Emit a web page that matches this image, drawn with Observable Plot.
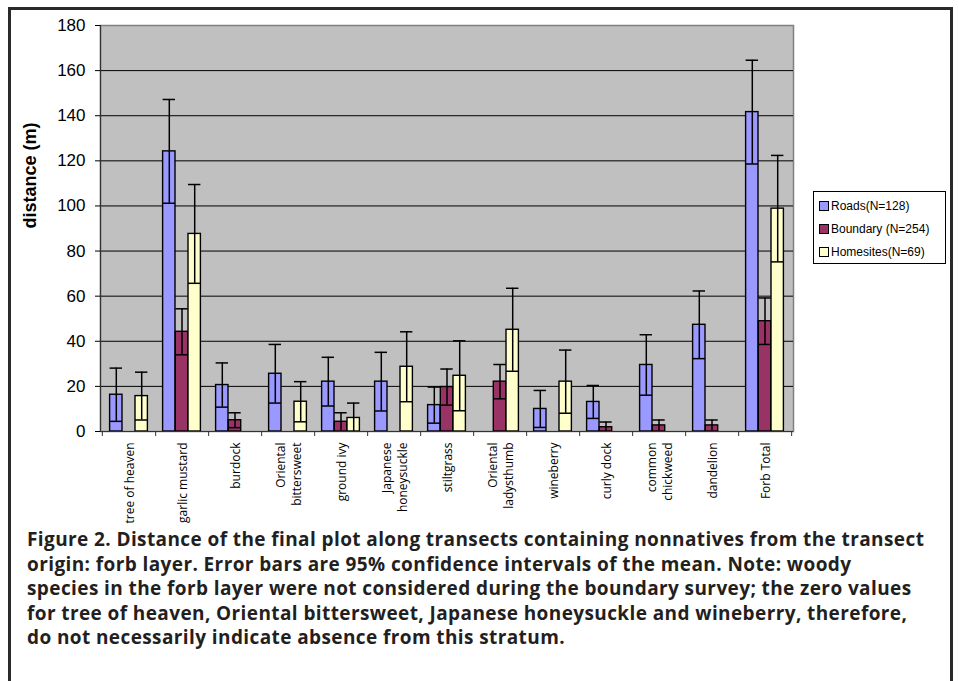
<!DOCTYPE html>
<html>
<head>
<meta charset="utf-8">
<script src="https://cdn.jsdelivr.net/npm/d3@7"></script>
<script src="https://cdn.jsdelivr.net/npm/@observablehq/plot@0.6"></script>
<style>
  html, body { margin: 0; padding: 0; background: #fff; }
  #page { position: relative; width: 959px; height: 681px; overflow: hidden; }
  #chart { position: absolute; left: 0; top: 0; }
  #outer { position: absolute; left: 8px; top: 7px; width: 945px; height: 700px; border: 3px solid #2a2a2a; box-sizing: border-box; pointer-events: none; }
  #legend { position: absolute; left: 813px; top: 191px; width: 133px; height: 73px; border: 1px solid #000; box-sizing: border-box; background: #fff; font-family: "Liberation Sans", Arial, sans-serif; font-size: 12px; color: #000; }
  .entry { position: absolute; left: 5px; height: 14px; line-height: 14px; white-space: nowrap; }
  .sw { display: inline-block; width: 8px; height: 8px; border: 1px solid #000; vertical-align: -1px; margin-right: 2px; }
  #caption { position: absolute; left: 27px; top: 527px; width: 930px; font-family: "Open Sans", sans-serif; font-weight: 700; font-size: 19px; letter-spacing: 0.4px; line-height: 24.6px; color: #231f20; white-space: pre; }
</style>
</head>
<body>
<div id="page">
  <div id="chart"></div>
  <div id="legend"></div>
  <div id="caption"></div>
  <div id="outer"></div>
</div>
<script>
const categories = ["tree of heaven", "garlic mustard", "burdock", "Oriental\nbittersweet", "ground ivy", "Japanese\nhoneysuckle", "stiltgrass", "Oriental\nladysthumb", "wineberry", "curly dock", "common\nchickweed", "dandelion", "Forb Total"];
const seriesNames = ["Roads(N=128)", "Boundary (N=254)", "Homesites(N=69)"];
const seriesColors = ["#9999ff", "#993366", "#ffffcc"];
const roadsMean = [16.3, 124.2, 20.6, 25.6, 22.1, 22.1, 11.7, 0, 10.0, 13.1, 29.5, 47.3, 141.6];
const roadsErr  = [11.8, 23.0, 9.8, 13.0, 10.8, 13.0, 8.0, 0, 8.2, 7.3, 13.4, 15.0, 23.0];
const boundaryMean = [0, 44.2, 5.0, 0, 4.3, 0, 19.7, 22.1, 0, 1.9, 2.7, 2.7, 48.9];
const boundaryErr  = [0, 10.2, 3.3, 0, 4.0, 0, 8.0, 7.6, 0, 2.3, 2.4, 2.4, 10.3];
const homesMean = [15.7, 87.6, 0, 13.2, 6.0, 28.7, 24.7, 45.1, 22.1, 0, 0, 0, 98.8];
const homesErr  = [10.6, 21.9, 0, 8.9, 6.6, 15.5, 15.5, 18.4, 14.0, 0, 0, 0, 23.6];
const yTicks = [0, 20, 40, 60, 80, 100, 120, 140, 160, 180];
const yLabel = "distance (m)";
const captionLines = [
  "Figure 2. Distance of the final plot along transects containing nonnatives from the transect",
  "origin: forb layer. Error bars are 95% confidence intervals of the mean. Note: woody",
  "species in the forb layer were not considered during the boundary survey; the zero values",
  "for tree of heaven, Oriental bittersweet, Japanese honeysuckle and wineberry, therefore,",
  "do not necessarily indicate absence from this stratum."
];

const means = [roadsMean, boundaryMean, homesMean];
const errs = [roadsErr, boundaryErr, homesErr];
const rows = [];
categories.forEach((c, i) => {
  seriesNames.forEach((s, k) => {
    const m = means[k][i], e = errs[k][i];
    rows.push({cat: c, series: s, k, mean: m, lo: Math.max(0, m - e), hi: m + e});
  });
});

const W = 959, H = 525;
const mL = 100, mR = 166, mT = 25, mB = 94;
const bw = (W - mL - mR) / categories.length;
const barW = 12.7;
const inset = (bw - barW) / 2;
const offsets = [-barW, 0, barW];

const marks = [
  Plot.frame({fill: "#c0c0c0", stroke: "#808080", strokeWidth: 1.5}),
  Plot.ruleY(yTicks.filter(t => t > 0 && t < 180), {stroke: "#000", strokeWidth: 1})
];
seriesNames.forEach((s, k) => {
  marks.push(Plot.barY(rows.filter(r => r.k === k), {
    x: "cat", y: "mean", fill: seriesColors[k], stroke: "#000", strokeWidth: 1.4,
    insetLeft: inset, insetRight: inset, dx: offsets[k]
  }));
});
seriesNames.forEach((s, k) => {
  const d = rows.filter(r => r.k === k && r.mean > 0);
  marks.push(Plot.ruleX(d, {x: "cat", y1: "lo", y2: "hi", dx: offsets[k], stroke: "#000", strokeWidth: 1.5}));
  marks.push(Plot.tickY(d, {x: "cat", y: "hi", dx: offsets[k], insetLeft: inset, insetRight: inset, stroke: "#000", strokeWidth: 1.5}));
  marks.push(Plot.tickY(d.filter(r => r.lo > 0.8), {x: "cat", y: "lo", dx: offsets[k], insetLeft: inset, insetRight: inset, stroke: "#000", strokeWidth: 1.5}));
});
marks.push(
  Plot.ruleY([0], {stroke: "#333", strokeWidth: 1.2}),
  Plot.frame({anchor: "left", stroke: "#333", strokeWidth: 1.2}),
  Plot.ruleX(categories, {x: d => d, y1: 0, y2: 0, insetBottom: -5, dx: bw / 2, stroke: "#333"}),
  Plot.ruleX(categories.slice(0, 1), {x: d => d, y1: 0, y2: 0, insetBottom: -5, dx: -bw / 2, stroke: "#333"}),
  Plot.axisY({ticks: yTicks, tickSize: 5, tickPadding: 10, fontSize: 17, label: null}),
  Plot.text(categories, {x: d => d, frameAnchor: "bottom", rotate: -90, textAnchor: "end", lineAnchor: "middle",
    dy: 11, fontSize: 12, fontFamily: "Open Sans", lineHeight: 1.3, fill: "#000", ariaLabel: "xlabels"}),
  Plot.text([yLabel], {frameAnchor: "left", rotate: -90, dx: -70, fontWeight: "bold", fontSize: 18, fill: "#000"})
);

const chart = Plot.plot({
  width: W, height: H,
  marginLeft: mL, marginRight: mR, marginTop: mT, marginBottom: mB,
  style: {fontFamily: "'Liberation Sans', Arial, sans-serif", background: "transparent", color: "#000"},
  x: {domain: categories, padding: 0, axis: null},
  y: {domain: [0, 180], axis: null},
  marks
});
document.getElementById("chart").appendChild(chart);

// center the lines of multi-line category labels (as the original does)
chart.querySelectorAll('g[aria-label="xlabels"] text').forEach(t => {
  const spans = t.querySelectorAll("tspan");
  if (spans.length < 2) return;
  const lens = Array.from(spans, s => s.getComputedTextLength());
  const L = Math.max(...lens);
  spans.forEach((s, i) => s.setAttribute("x", -(L - lens[i]) / 2));
});

const legend = document.getElementById("legend");
const rowTops = [7, 30, 53];
seriesNames.forEach((s, k) => {
  const e = document.createElement("div");
  e.className = "entry";
  e.style.top = rowTops[k] + "px";
  e.innerHTML = `<span class="sw" style="background:${seriesColors[k]}"></span>${s}`;
  legend.appendChild(e);
});
document.getElementById("caption").textContent = captionLines.join("\n");
</script>
</body>
</html>
